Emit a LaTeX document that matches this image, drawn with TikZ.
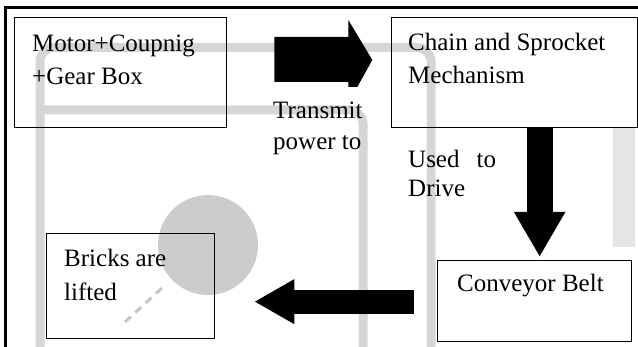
\documentclass[tikz,border=0pt]{standalone}
\usepackage{fontspec}
\setmainfont{Liberation Serif}
\usetikzlibrary{arrows.meta,calc}
\begin{document}
\begin{tikzpicture}[x=1pt,y=-1pt,
  box/.style={draw, line width=1.3pt, inner sep=0pt, anchor=north west},
  lbl/.style={anchor=base west, inner sep=0pt, font=\fontsize{25}{33}\selectfont},
  wm/.style={draw=black!16, line width=9pt, rounded corners=14pt},
  fat/.style={line width=#1, draw=black},
]
\useasboundingbox (0,0) rectangle (638,347);
% faint background watermark
\fill[black!20] (208,245) circle (50);
\draw[wm] (40,347) -- (40,47.5) -- (431,47.5) -- (431,347);
\draw[wm] (44,110) -- (363,110) -- (363,347);
\draw[black!10, line width=22pt] (624,127) -- (624,247);
\draw[black!22, line width=3pt, dash pattern=on 8pt off 6pt] (125,322) -- (162,288);
% frame
\draw[line width=2.5pt] (5.5,347) -- (5.5,7.5) -- (638,7.5);
% boxes
\node[box, minimum width=212pt, minimum height=110pt] (motor) at (14,17) {};
\node[box, minimum width=246pt, minimum height=110pt] (chain) at (391,17) {};
\node[box, minimum width=194pt, minimum height=81pt] (belt) at (437,260) {};
\node[box, minimum width=168pt, minimum height=105pt] (bricks) at (46,233) {};
% texts
\node[lbl] (t1) at (32,52) {Motor+Coupnig};
\node[lbl] (t2) at (32,85) {+Gear Box};
\node[lbl] (t3) at (408,51) {Chain and Sprocket};
\node[lbl] (t4) at (408,84) {Mechanism};
\node[lbl] (t5) at (273,119) {Transmit};
\node[lbl] (t6) at (273,150) {power to};
\node[lbl] (t7) at (408,168) {Used\hspace{17pt}to};
\node[lbl] (t8) at (408,197) {Drive};
\node[lbl] (t9) at (457,292) {Conveyor Belt};
\node[lbl] (t10) at (64,267) {Bricks are};
\node[lbl] (t11) at (64,301) {lifted};
% arrows
\path (motor.north east) ++(47,20) coordinate (ra);
\fill (ra) -- ++(74,0) -- ++(0,-17) -- ++(24,40) -- ++(-15,27) -- ++(-9,0) -- ++(0,-5) -- ++(-74,0) -- cycle;
\path (chain.south) ++(25,0) coordinate (da);
\path (belt.north) ++(5,-3) coordinate (db);
\draw[line width=26pt, -{Triangle[length=45pt,width=48pt]}] (da) -- (db);
\path (belt.west) ++(-23,0.5) coordinate (la);
\path (bricks.east) ++(39,15.5) coordinate (lb);
\draw[line width=24pt, -{Triangle[length=40pt,width=42pt]}] (la) -- (lb);
\end{tikzpicture}
\end{document}
